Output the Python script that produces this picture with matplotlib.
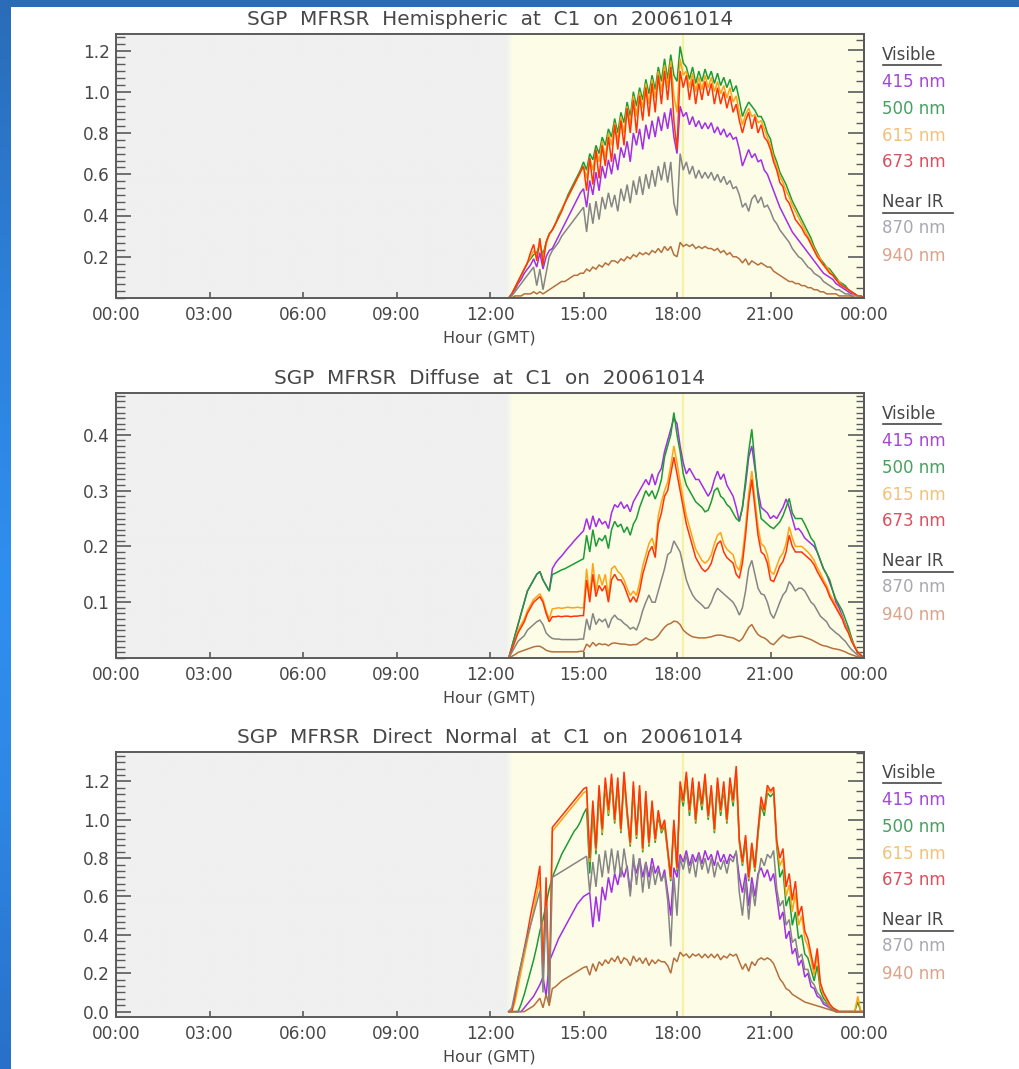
import numpy as np
import matplotlib
matplotlib.use("Agg")
import matplotlib.pyplot as plt
from matplotlib.ticker import MultipleLocator, FixedLocator, FormatStrFormatter, NullFormatter
from matplotlib.lines import Line2D
from matplotlib.patches import Rectangle

W, H = 1019, 1069
plt.rcParams['font.family'] = ['DejaVu Sans']

# Sample times (GMT hours), 6-minute steps from 12:36 to 24:00
hours = np.round(np.arange(126, 241) / 10.0, 1)

# ---------------- Hemispheric irradiance ----------------
hemi_415 = [0.00, 0.02, 0.04, 0.07,
    0.09, 0.12, 0.14, 0.16, 0.19, 0.15, 0.22, 0.14, 0.20, 0.23,
    0.24, 0.27, 0.30, 0.33, 0.36, 0.39, 0.42, 0.45, 0.48, 0.51,
    0.53, 0.44, 0.57, 0.50, 0.61, 0.52, 0.64, 0.58, 0.67, 0.60,
    0.70, 0.62, 0.73, 0.68, 0.76, 0.66, 0.80, 0.74, 0.82, 0.72,
    0.84, 0.77, 0.86, 0.78, 0.88, 0.81, 0.90, 0.82, 0.92, 0.78,
    0.70, 0.93, 0.88, 0.90, 0.84, 0.88, 0.83, 0.86, 0.82, 0.85,
    0.82, 0.85, 0.80, 0.83, 0.79, 0.82, 0.78, 0.80, 0.77, 0.78,
    0.72, 0.64, 0.68, 0.72, 0.68, 0.70, 0.66, 0.67, 0.62, 0.60,
    0.56, 0.52, 0.48, 0.44, 0.41, 0.38, 0.35, 0.32, 0.30, 0.28,
    0.26, 0.24, 0.22, 0.20, 0.18, 0.16, 0.14, 0.12, 0.11, 0.10,
    0.09, 0.07, 0.06, 0.05, 0.04, 0.03, 0.02, 0.02, 0.01, 0.01,
    0.00]
hemi_500 = [0.00, 0.02, 0.05, 0.08,
    0.11, 0.14, 0.17, 0.19, 0.21, 0.22, 0.26, 0.21, 0.27, 0.31,
    0.33, 0.36, 0.40, 0.43, 0.46, 0.50, 0.53, 0.56, 0.59, 0.62,
    0.66, 0.62, 0.70, 0.67, 0.74, 0.70, 0.78, 0.74, 0.82, 0.78,
    0.87, 0.80, 0.90, 0.85, 0.95, 0.88, 1.00, 0.93, 1.02, 0.96,
    1.06, 0.99, 1.08, 1.01, 1.12, 1.05, 1.16, 1.06, 1.18, 1.08,
    1.05, 1.22, 1.14, 1.12, 1.06, 1.12, 1.04, 1.10, 1.05, 1.11,
    1.06, 1.10, 1.04, 1.09, 1.03, 1.07, 1.02, 1.06, 1.00, 1.03,
    0.96, 0.88, 0.92, 0.95, 0.93, 0.91, 0.88, 0.88, 0.85, 0.80,
    0.77, 0.70, 0.66, 0.61, 0.58, 0.55, 0.51, 0.47, 0.44, 0.41,
    0.38, 0.35, 0.32, 0.29, 0.25, 0.22, 0.19, 0.17, 0.15, 0.14,
    0.12, 0.10, 0.08, 0.07, 0.06, 0.04, 0.03, 0.02, 0.01, 0.01,
    0.00]
hemi_615 = [0.00, 0.02, 0.05, 0.08,
    0.11, 0.14, 0.17, 0.20, 0.23, 0.20, 0.27, 0.19, 0.26, 0.31,
    0.33, 0.36, 0.39, 0.43, 0.46, 0.49, 0.52, 0.55, 0.58, 0.61,
    0.64, 0.58, 0.68, 0.62, 0.72, 0.66, 0.76, 0.68, 0.80, 0.74,
    0.85, 0.76, 0.88, 0.80, 0.93, 0.84, 0.98, 0.88, 1.00, 0.92,
    1.04, 0.94, 1.06, 0.97, 1.10, 1.00, 1.13, 1.02, 1.15, 0.98,
    0.90, 1.16, 1.08, 1.10, 1.02, 1.09, 1.00, 1.07, 1.01, 1.08,
    1.02, 1.07, 1.00, 1.05, 0.99, 1.03, 0.97, 1.02, 0.95, 0.98,
    0.90, 0.84, 0.89, 0.92, 0.88, 0.89, 0.85, 0.86, 0.82, 0.78,
    0.74, 0.68, 0.64, 0.59, 0.56, 0.52, 0.49, 0.45, 0.42, 0.39,
    0.36, 0.33, 0.30, 0.27, 0.24, 0.21, 0.19, 0.16, 0.15, 0.13,
    0.11, 0.09, 0.08, 0.06, 0.05, 0.04, 0.03, 0.02, 0.01, 0.01,
    0.00]
hemi_673 = [0.00, 0.02, 0.05, 0.08,
    0.11, 0.14, 0.17, 0.22, 0.26, 0.18, 0.29, 0.16, 0.27, 0.31,
    0.33, 0.36, 0.39, 0.42, 0.46, 0.49, 0.52, 0.55, 0.58, 0.61,
    0.64, 0.52, 0.68, 0.55, 0.72, 0.58, 0.74, 0.64, 0.78, 0.66,
    0.84, 0.72, 0.86, 0.74, 0.92, 0.80, 0.96, 0.80, 0.98, 0.86,
    1.02, 0.88, 1.04, 0.90, 1.08, 0.94, 1.10, 0.96, 1.12, 0.86,
    0.72, 1.10, 1.02, 1.08, 0.96, 1.06, 0.94, 1.04, 0.96, 1.05,
    0.98, 1.04, 0.94, 1.02, 0.94, 1.00, 0.92, 0.98, 0.90, 0.94,
    0.86, 0.80, 0.86, 0.90, 0.82, 0.88, 0.80, 0.84, 0.78, 0.76,
    0.72, 0.66, 0.62, 0.56, 0.54, 0.48, 0.46, 0.42, 0.38, 0.36,
    0.34, 0.31, 0.29, 0.26, 0.23, 0.20, 0.18, 0.16, 0.14, 0.12,
    0.11, 0.09, 0.07, 0.06, 0.05, 0.04, 0.03, 0.02, 0.01, 0.01,
    0.00]
hemi_870 = [0.00, 0.01, 0.03, 0.05,
    0.07, 0.09, 0.11, 0.13, 0.15, 0.06, 0.14, 0.04, 0.12, 0.20,
    0.23, 0.25, 0.27, 0.30, 0.32, 0.34, 0.36, 0.38, 0.40, 0.42,
    0.44, 0.32, 0.46, 0.36, 0.47, 0.38, 0.49, 0.43, 0.51, 0.44,
    0.50, 0.42, 0.53, 0.47, 0.55, 0.46, 0.57, 0.50, 0.59, 0.50,
    0.60, 0.53, 0.62, 0.54, 0.64, 0.57, 0.66, 0.56, 0.66, 0.46,
    0.40, 0.70, 0.62, 0.66, 0.60, 0.64, 0.58, 0.62, 0.58, 0.61,
    0.58, 0.61, 0.57, 0.60, 0.56, 0.59, 0.55, 0.57, 0.53, 0.54,
    0.50, 0.44, 0.46, 0.42, 0.48, 0.50, 0.46, 0.49, 0.44, 0.45,
    0.42, 0.38, 0.36, 0.33, 0.31, 0.29, 0.27, 0.24, 0.22, 0.20,
    0.19, 0.17, 0.15, 0.14, 0.12, 0.11, 0.10, 0.08, 0.07, 0.06,
    0.05, 0.04, 0.04, 0.03, 0.02, 0.02, 0.01, 0.01, 0.01, 0.00,
    0.00]
hemi_940 = [0.00, 0.00, 0.01, 0.01,
    0.01, 0.02, 0.02, 0.02, 0.03, 0.02, 0.03, 0.02, 0.03, 0.04,
    0.05, 0.06, 0.07, 0.08, 0.08, 0.09, 0.10, 0.11, 0.11, 0.12,
    0.12, 0.14, 0.13, 0.15, 0.14, 0.16, 0.15, 0.17, 0.16, 0.18,
    0.18, 0.17, 0.19, 0.18, 0.20, 0.19, 0.21, 0.20, 0.22, 0.21,
    0.22, 0.21, 0.23, 0.22, 0.24, 0.22, 0.25, 0.23, 0.25, 0.21,
    0.20, 0.27, 0.25, 0.26, 0.25, 0.26, 0.24, 0.25, 0.24, 0.25,
    0.24, 0.24, 0.23, 0.24, 0.22, 0.23, 0.21, 0.22, 0.20, 0.20,
    0.19, 0.17, 0.19, 0.16, 0.18, 0.17, 0.16, 0.17, 0.16, 0.15,
    0.15, 0.13, 0.12, 0.11, 0.10, 0.09, 0.08, 0.08, 0.07, 0.07,
    0.06, 0.06, 0.05, 0.05, 0.04, 0.04, 0.03, 0.03, 0.02, 0.02,
    0.02, 0.02, 0.01, 0.01, 0.01, 0.01, 0.01, 0.00, 0.00, 0.00,
    0.00]

# ---------------- Diffuse irradiance ----------------
diff_415 = [0.00, 0.02, 0.04, 0.06,
    0.08, 0.10, 0.12, 0.13, 0.14, 0.15, 0.155, 0.14, 0.13, 0.12,
    0.16, 0.17, 0.177, 0.183, 0.19, 0.197, 0.203, 0.21, 0.216, 0.222,
    0.228, 0.25, 0.23, 0.255, 0.235, 0.25, 0.24, 0.245, 0.232, 0.26,
    0.275, 0.27, 0.28, 0.268, 0.275, 0.262, 0.28, 0.29, 0.30, 0.31,
    0.32, 0.31, 0.33, 0.31, 0.33, 0.34, 0.37, 0.39, 0.41, 0.43,
    0.42, 0.38, 0.35, 0.33, 0.34, 0.33, 0.32, 0.32, 0.31, 0.30,
    0.29, 0.30, 0.32, 0.335, 0.32, 0.33, 0.31, 0.30, 0.29, 0.27,
    0.245, 0.27, 0.31, 0.36, 0.38, 0.34, 0.30, 0.27, 0.265, 0.26,
    0.25, 0.255, 0.25, 0.26, 0.27, 0.285, 0.27, 0.25, 0.23, 0.232,
    0.225, 0.215, 0.21, 0.205, 0.20, 0.19, 0.175, 0.16, 0.15, 0.135,
    0.12, 0.10, 0.09, 0.075, 0.06, 0.05, 0.035, 0.02, 0.01, 0.005,
    0.00]
diff_500 = [0.00, 0.02, 0.04, 0.06,
    0.08, 0.10, 0.12, 0.13, 0.14, 0.15, 0.155, 0.14, 0.13, 0.12,
    0.15, 0.152, 0.155, 0.158, 0.16, 0.163, 0.166, 0.169, 0.172, 0.175,
    0.178, 0.22, 0.19, 0.23, 0.20, 0.215, 0.21, 0.22, 0.196, 0.23,
    0.245, 0.235, 0.24, 0.225, 0.235, 0.22, 0.24, 0.25, 0.27, 0.285,
    0.30, 0.29, 0.30, 0.285, 0.30, 0.32, 0.36, 0.38, 0.40, 0.44,
    0.40, 0.37, 0.33, 0.31, 0.30, 0.29, 0.28, 0.275, 0.27, 0.262,
    0.265, 0.28, 0.30, 0.305, 0.29, 0.285, 0.275, 0.27, 0.26, 0.25,
    0.245, 0.27, 0.32, 0.37, 0.41, 0.35, 0.29, 0.25, 0.245, 0.24,
    0.235, 0.232, 0.238, 0.244, 0.255, 0.27, 0.286, 0.26, 0.25, 0.25,
    0.25, 0.24, 0.228, 0.215, 0.208, 0.19, 0.175, 0.16, 0.15, 0.14,
    0.12, 0.105, 0.095, 0.085, 0.07, 0.055, 0.036, 0.02, 0.01, 0.005,
    0.00]
diff_615 = [0.00, 0.015, 0.03, 0.05,
    0.06, 0.07, 0.085, 0.095, 0.105, 0.11, 0.115, 0.105, 0.085, 0.07,
    0.088, 0.089, 0.09, 0.089, 0.09, 0.091, 0.09, 0.09, 0.091, 0.09,
    0.09, 0.16, 0.11, 0.17, 0.12, 0.15, 0.13, 0.15, 0.11, 0.16,
    0.165, 0.155, 0.15, 0.14, 0.125, 0.112, 0.12, 0.112, 0.135, 0.165,
    0.185, 0.205, 0.215, 0.195, 0.255, 0.28, 0.30, 0.315, 0.345, 0.38,
    0.35, 0.315, 0.285, 0.255, 0.235, 0.215, 0.195, 0.185, 0.175, 0.17,
    0.175, 0.185, 0.205, 0.22, 0.225, 0.205, 0.195, 0.19, 0.185, 0.165,
    0.157, 0.185, 0.235, 0.295, 0.335, 0.285, 0.235, 0.205, 0.20, 0.185,
    0.155, 0.15, 0.165, 0.18, 0.188, 0.205, 0.235, 0.215, 0.20, 0.20,
    0.20, 0.195, 0.19, 0.183, 0.175, 0.162, 0.152, 0.14, 0.13, 0.115,
    0.105, 0.094, 0.083, 0.072, 0.058, 0.047, 0.032, 0.021, 0.011, 0.005,
    0.00]
diff_673 = [0.00, 0.015, 0.03, 0.045,
    0.055, 0.065, 0.08, 0.09, 0.10, 0.105, 0.11, 0.10, 0.08, 0.065,
    0.074, 0.074, 0.075, 0.074, 0.075, 0.075, 0.074, 0.075, 0.075, 0.076,
    0.076, 0.14, 0.10, 0.15, 0.11, 0.13, 0.12, 0.13, 0.10, 0.14,
    0.15, 0.14, 0.14, 0.13, 0.115, 0.10, 0.11, 0.10, 0.12, 0.15,
    0.17, 0.19, 0.20, 0.18, 0.24, 0.26, 0.29, 0.30, 0.33, 0.36,
    0.33, 0.30, 0.27, 0.24, 0.22, 0.20, 0.18, 0.17, 0.16, 0.155,
    0.16, 0.17, 0.19, 0.205, 0.21, 0.19, 0.18, 0.175, 0.17, 0.15,
    0.143, 0.17, 0.22, 0.28, 0.32, 0.27, 0.22, 0.19, 0.185, 0.17,
    0.14, 0.137, 0.15, 0.165, 0.173, 0.19, 0.22, 0.20, 0.19, 0.19,
    0.19, 0.185, 0.18, 0.175, 0.167, 0.155, 0.145, 0.135, 0.125, 0.11,
    0.10, 0.09, 0.08, 0.07, 0.055, 0.045, 0.03, 0.02, 0.01, 0.005,
    0.00]
diff_870 = [0.00, 0.01, 0.02, 0.03,
    0.035, 0.04, 0.05, 0.055, 0.06, 0.065, 0.068, 0.06, 0.045, 0.039,
    0.035, 0.034, 0.034, 0.033, 0.033, 0.033, 0.033, 0.033, 0.033, 0.034,
    0.034, 0.07, 0.05, 0.08, 0.06, 0.07, 0.065, 0.07, 0.054, 0.07,
    0.077, 0.07, 0.068, 0.062, 0.058, 0.052, 0.055, 0.05, 0.065, 0.085,
    0.10, 0.113, 0.10, 0.10, 0.12, 0.14, 0.16, 0.185, 0.19, 0.21,
    0.20, 0.19, 0.165, 0.14, 0.125, 0.113, 0.105, 0.10, 0.095, 0.089,
    0.09, 0.10, 0.115, 0.125, 0.12, 0.115, 0.11, 0.105, 0.10, 0.09,
    0.077, 0.09, 0.12, 0.16, 0.175, 0.15, 0.125, 0.115, 0.113, 0.10,
    0.08, 0.071, 0.085, 0.10, 0.113, 0.12, 0.137, 0.13, 0.12, 0.125,
    0.125, 0.12, 0.11, 0.10, 0.095, 0.085, 0.075, 0.07, 0.065, 0.055,
    0.05, 0.045, 0.041, 0.035, 0.03, 0.022, 0.015, 0.01, 0.005, 0.002,
    0.00]
diff_940 = [0.00, 0.003, 0.006, 0.01,
    0.012, 0.014, 0.016, 0.018, 0.02, 0.021, 0.021, 0.018, 0.014, 0.012,
    0.011, 0.011, 0.011, 0.011, 0.011, 0.011, 0.011, 0.011, 0.011, 0.012,
    0.012, 0.025, 0.02, 0.028, 0.022, 0.026, 0.024, 0.025, 0.022, 0.026,
    0.027, 0.026, 0.025, 0.025, 0.024, 0.023, 0.024, 0.024, 0.028, 0.032,
    0.036, 0.033, 0.032, 0.035, 0.04, 0.048, 0.055, 0.06, 0.062, 0.066,
    0.065, 0.06, 0.05, 0.045, 0.041, 0.038, 0.037, 0.036, 0.036, 0.036,
    0.037, 0.038, 0.04, 0.041, 0.041, 0.04, 0.038, 0.037, 0.036, 0.033,
    0.03, 0.035, 0.045, 0.055, 0.06, 0.05, 0.042, 0.038, 0.036, 0.032,
    0.026, 0.024, 0.03, 0.036, 0.041, 0.038, 0.036, 0.037, 0.038, 0.039,
    0.039, 0.037, 0.035, 0.033, 0.03, 0.027, 0.024, 0.022, 0.021, 0.019,
    0.017, 0.016, 0.015, 0.013, 0.011, 0.008, 0.006, 0.004, 0.002, 0.001,
    0.00]

# ---------------- Direct normal irradiance ----------------
dir_415 = [0.00, 0.00, 0.00, 0.00,
    0.00, 0.02, 0.04, 0.06, 0.08, 0.11, 0.14, 0.18, 0.08, 0.26,
    0.30, 0.34, 0.38, 0.41, 0.44, 0.47, 0.50, 0.53, 0.56, 0.58,
    0.60, 0.61, 0.62, 0.44, 0.60, 0.47, 0.65, 0.58, 0.70, 0.62,
    0.72, 0.66, 0.75, 0.70, 0.76, 0.62, 0.78, 0.72, 0.80, 0.70,
    0.78, 0.70, 0.80, 0.72, 0.76, 0.68, 0.74, 0.62, 0.50, 0.75,
    0.70, 0.82, 0.78, 0.84, 0.76, 0.82, 0.78, 0.83, 0.77, 0.84,
    0.79, 0.82, 0.76, 0.84, 0.78, 0.82, 0.77, 0.82, 0.80, 0.83,
    0.70, 0.62, 0.72, 0.55, 0.70, 0.60, 0.72, 0.75, 0.70, 0.74,
    0.68, 0.72, 0.60, 0.48, 0.52, 0.38, 0.42, 0.30, 0.33, 0.24,
    0.27, 0.18, 0.20, 0.13, 0.12, 0.08, 0.07, 0.04, 0.03, 0.02,
    0.01, 0.00, 0.00, 0.00, 0.00, 0.00, 0.00, 0.00, 0.00, 0.00,
    0.00]
dir_500 = [0.00, 0.00, 0.00, 0.00,
    0.04, 0.09, 0.15, 0.21, 0.27, 0.34, 0.42, 0.48, 0.56, 0.64,
    0.70, 0.74, 0.78, 0.82, 0.85, 0.88, 0.91, 0.94, 0.96, 0.99,
    1.03, 1.06, 0.72, 1.05, 0.82, 1.14, 0.92, 1.18, 1.02, 1.20,
    0.98, 1.18, 0.93, 1.21, 1.02, 0.86, 1.16, 0.90, 1.14, 0.83,
    1.11, 0.86, 1.07, 0.88, 1.02, 0.93, 0.97, 0.83, 0.68, 0.97,
    0.73, 1.16, 1.07, 1.21, 1.02, 1.18, 0.98, 1.16, 1.05, 1.20,
    1.00, 1.15, 0.93, 1.18, 1.02, 1.16, 0.98, 1.18, 1.07, 1.24,
    0.88, 0.76, 0.89, 0.68, 0.85, 0.73, 0.92, 1.08, 1.02, 1.14,
    1.12, 1.14, 0.86, 0.70, 0.74, 0.55, 0.60, 0.45, 0.52, 0.38,
    0.40, 0.30, 0.28, 0.22, 0.16, 0.24, 0.11, 0.07, 0.05, 0.03,
    0.01, 0.00, 0.00, 0.00, 0.00, 0.00, 0.00, 0.00, 0.05, 0.00,
    0.00]
dir_615 = [0.00, 0.00, 0.05, 0.13,
    0.21, 0.29, 0.37, 0.45, 0.53, 0.61, 0.70, 0.30, 0.62, 0.10,
    0.94, 0.96, 0.98, 1.00, 1.02, 1.04, 1.06, 1.08, 1.10, 1.12,
    1.14, 1.15, 0.78, 1.08, 0.84, 1.16, 0.93, 1.20, 1.03, 1.22,
    0.99, 1.20, 0.94, 1.23, 1.04, 0.87, 1.18, 0.91, 1.16, 0.84,
    1.13, 0.87, 1.08, 0.89, 1.04, 0.94, 0.99, 0.84, 0.69, 0.99,
    0.74, 1.18, 1.09, 1.23, 1.04, 1.20, 0.99, 1.18, 1.07, 1.22,
    1.01, 1.16, 0.94, 1.20, 1.04, 1.18, 0.99, 1.20, 1.09, 1.26,
    0.89, 0.77, 0.91, 0.69, 0.87, 0.74, 0.94, 1.10, 1.04, 1.16,
    1.14, 1.16, 0.88, 0.76, 0.80, 0.60, 0.66, 0.52, 0.62, 0.45,
    0.50, 0.38, 0.34, 0.27, 0.19, 0.30, 0.13, 0.09, 0.06, 0.03,
    0.02, 0.01, 0.00, 0.00, 0.00, 0.00, 0.00, 0.00, 0.08, 0.00,
    0.00]
dir_673 = [0.00, 0.00, 0.08, 0.17,
    0.25, 0.33, 0.41, 0.50, 0.58, 0.66, 0.76, 0.20, 0.70, 0.05,
    0.96, 0.98, 1.00, 1.02, 1.04, 1.06, 1.08, 1.10, 1.12, 1.14,
    1.16, 1.17, 0.80, 1.10, 0.85, 1.18, 0.95, 1.22, 1.05, 1.24,
    1.00, 1.22, 0.95, 1.25, 1.05, 0.88, 1.20, 0.92, 1.18, 0.85,
    1.15, 0.88, 1.10, 0.90, 1.05, 0.95, 1.00, 0.85, 0.70, 1.00,
    0.75, 1.20, 1.10, 1.25, 1.05, 1.22, 1.00, 1.20, 1.08, 1.24,
    1.02, 1.18, 0.95, 1.22, 1.05, 1.20, 1.00, 1.22, 1.10, 1.28,
    0.90, 0.78, 0.92, 0.70, 0.88, 0.75, 0.95, 1.12, 1.05, 1.18,
    1.15, 1.17, 0.89, 0.80, 0.85, 0.65, 0.72, 0.58, 0.68, 0.50,
    0.55, 0.42, 0.38, 0.30, 0.22, 0.33, 0.15, 0.10, 0.07, 0.04,
    0.02, 0.01, 0.00, 0.00, 0.00, 0.00, 0.00, 0.00, 0.00, 0.00,
    0.00]
dir_870 = [0.00, 0.02, 0.10, 0.18,
    0.25, 0.32, 0.39, 0.45, 0.51, 0.57, 0.63, 0.10, 0.55, 0.05,
    0.70, 0.71, 0.72, 0.73, 0.74, 0.75, 0.76, 0.77, 0.78, 0.79,
    0.80, 0.81, 0.62, 0.78, 0.65, 0.82, 0.70, 0.84, 0.72, 0.85,
    0.72, 0.84, 0.70, 0.85, 0.74, 0.60, 0.82, 0.66, 0.80, 0.62,
    0.78, 0.64, 0.76, 0.66, 0.74, 0.68, 0.72, 0.58, 0.34, 0.70,
    0.50, 0.80, 0.74, 0.82, 0.72, 0.80, 0.70, 0.82, 0.74, 0.80,
    0.72, 0.80, 0.70, 0.78, 0.74, 0.79, 0.72, 0.80, 0.78, 0.84,
    0.62, 0.50, 0.68, 0.48, 0.66, 0.55, 0.70, 0.80, 0.76, 0.82,
    0.80, 0.84, 0.64, 0.55, 0.58, 0.45, 0.48, 0.36, 0.38, 0.28,
    0.30, 0.22, 0.22, 0.16, 0.14, 0.10, 0.08, 0.05, 0.04, 0.02,
    0.01, 0.00, 0.00, 0.00, 0.00, 0.00, 0.00, 0.00, 0.00, 0.00,
    0.00]
dir_940 = [0.00, 0.00, 0.00, 0.00,
    0.00, 0.00, 0.01, 0.02, 0.03, 0.05, 0.07, 0.02, 0.09, 0.03,
    0.12, 0.13, 0.145, 0.16, 0.17, 0.18, 0.19, 0.20, 0.21, 0.22,
    0.23, 0.235, 0.19, 0.25, 0.21, 0.26, 0.24, 0.27, 0.25, 0.28,
    0.26, 0.29, 0.25, 0.28, 0.27, 0.24, 0.29, 0.26, 0.28, 0.25,
    0.28, 0.24, 0.27, 0.25, 0.27, 0.26, 0.26, 0.24, 0.20, 0.28,
    0.26, 0.31, 0.29, 0.30, 0.28, 0.30, 0.29, 0.30, 0.28, 0.30,
    0.28, 0.30, 0.28, 0.30, 0.27, 0.29, 0.28, 0.30, 0.29, 0.30,
    0.26, 0.22, 0.25, 0.21, 0.26, 0.24, 0.27, 0.28, 0.27, 0.28,
    0.27, 0.25, 0.21, 0.17, 0.15, 0.12, 0.11, 0.09, 0.08, 0.07,
    0.06, 0.05, 0.045, 0.04, 0.035, 0.03, 0.025, 0.02, 0.015, 0.01,
    0.005, 0.00, 0.00, 0.00, 0.00, 0.00, 0.00, 0.00, 0.00, 0.00,
    0.00]

tick_hours = [0, 3, 6, 9, 12, 15, 18, 21, 24]
tick_labels = ["00:00", "03:00", "06:00", "09:00", "12:00",
               "15:00", "18:00", "21:00", "00:00"]

channel_names = ["415 nm", "500 nm", "615 nm", "673 nm", "870 nm", "940 nm"]
line_colors = ["#a22ee6", "#1c9c34", "#ffa412", "#ff3408", "#858585", "#b5703e"]
label_colors = ["#a448d6", "#47a05e", "#f2c27a", "#d9505e", "#a8a8b0", "#dba48a"]

solar_noon = 18.2
text_color = "#474747"
frame_color = "#5a5a5a"

panels = [
    dict(title="SGP  MFRSR  Hemispheric  at  C1  on  20061014",
         series=[hemi_415, hemi_500, hemi_615, hemi_673, hemi_870, hemi_940],
         ylim=(0.0, 1.28), yticks=[0.2, 0.4, 0.6, 0.8, 1.0, 1.2],
         major=0.2, left_minor=0.2 / 6, right_minor=0.05, top=34, bottom=298),
    dict(title="SGP  MFRSR  Diffuse  at  C1  on  20061014",
         series=[diff_415, diff_500, diff_615, diff_673, diff_870, diff_940],
         ylim=(0.0, 0.475), yticks=[0.1, 0.2, 0.3, 0.4],
         major=0.1, left_minor=0.01, right_minor=0.01, top=393, bottom=658),
    dict(title="SGP  MFRSR  Direct  Normal  at  C1  on  20061014",
         series=[dir_415, dir_500, dir_615, dir_673, dir_870, dir_940],
         ylim=(-0.028, 1.353), yticks=[0.0, 0.2, 0.4, 0.6, 0.8, 1.0, 1.2],
         major=0.2, left_minor=0.2 / 6, right_minor=0.05, top=752, bottom=1017),
]


def fx(px):
    return px / W


def fy(py):
    return 1.0 - py / H


fig = plt.figure(figsize=(W / 100, H / 100), dpi=100)
fig.patch.set_facecolor("white")

# Blue frame along the top and left edges
fig.add_artist(Rectangle((0, fy(7)), 1, 7 / H, transform=fig.transFigure,
                         facecolor="#2a6cb8", edgecolor="none", zorder=0))
edge_ax = fig.add_axes([0, 0, 11 / W, 1], zorder=0)
edge_ax.axis("off")
stops_y = np.array([0.0, 0.3, 0.55, 0.75, 1.0])
stops_c = np.array([[42, 108, 184], [45, 130, 220], [47, 143, 240],
                    [46, 135, 228], [40, 112, 200]]) / 255.0
yy = np.linspace(0, 1, 400)
strip = np.stack([np.interp(yy, stops_y, stops_c[:, k]) for k in range(3)], axis=-1)
edge_ax.imshow(strip[:, None, :], aspect="auto", extent=(0, 1, 1, 0))

# Night / day shading along the time axis
shade_x = np.linspace(0, 24, 1921)
blend = np.clip((shade_x - 12.52) / (12.74 - 12.52), 0, 1)
night = np.array([240, 240, 240]) / 255.0
day = np.array([253, 253, 231]) / 255.0
shade = night[None, :] * (1 - blend[:, None]) + day[None, :] * blend[:, None]

for p in panels:
    top, bottom = p["top"], p["bottom"]
    ax = fig.add_axes([fx(116), fy(bottom), fx(864) - fx(116), (bottom - top) / H])
    ylo, yhi = p["ylim"]
    ax.imshow(shade[None, :, :], extent=(0, 24, ylo, yhi), aspect="auto",
              interpolation="bilinear", zorder=0)
    ax.axvline(solar_noon, color="#f5f1a8", lw=1.6, zorder=1)

    for vals, col in zip(p["series"], line_colors):
        ax.plot(hours, vals, color=col, lw=1.1, zorder=2, solid_joinstyle="miter")

    ax.set_xlim(0, 24)
    ax.set_ylim(ylo, yhi)

    for sp in ax.spines.values():
        sp.set_color(frame_color)
        sp.set_linewidth(1.4)

    ax.set_xticks(tick_hours)
    ax.set_xticklabels(tick_labels)
    ax.tick_params(axis="x", direction="in", length=4, width=1.2, color=frame_color,
                   labelcolor=text_color, labelsize=12.2, pad=6, top=False)
    ax.yaxis.set_major_locator(FixedLocator(p["yticks"]))
    ax.yaxis.set_major_formatter(FormatStrFormatter("%.1f"))
    ax.yaxis.set_minor_locator(MultipleLocator(p["left_minor"]))
    ax.tick_params(axis="y", which="major", direction="in", length=11, width=1.2,
                   color=frame_color, labelcolor=text_color, labelsize=12.2,
                   pad=4.5, right=False)
    ax.tick_params(axis="y", which="minor", direction="in", length=6.5, width=1.0,
                   color=frame_color, right=False)

    sec = ax.secondary_yaxis("right")
    sec.yaxis.set_major_locator(MultipleLocator(p["major"]))
    sec.yaxis.set_minor_locator(MultipleLocator(p["right_minor"]))
    sec.yaxis.set_major_formatter(NullFormatter())
    sec.tick_params(which="major", direction="in", length=11.5, width=1.2, color=frame_color)
    sec.tick_params(which="minor", direction="in", length=5.5, width=1.0, color=frame_color)
    sec.spines["right"].set_color(frame_color)
    sec.spines["right"].set_linewidth(1.4)

    fig.text(fx(490), fy(top - 14.5), p["title"], ha="center", va="center",
             fontsize=14.4, color=text_color)
    fig.text(fx(489), fy(bottom + 40), "Hour (GMT)", ha="center", va="center",
             fontsize=11.5, color=text_color)

    # Channel key to the right of each panel
    fig.text(fx(882), fy(top + 21), "Visible", ha="left", va="center",
             fontsize=12, color=text_color)
    fig.add_artist(Line2D([fx(883), fx(941)], [fy(top + 31), fy(top + 31)],
                          color=text_color, lw=1.2))
    for k, off in enumerate([48, 75, 102, 128]):
        fig.text(fx(882), fy(top + off), channel_names[k], ha="left", va="center",
                 fontsize=12, color=label_colors[k])
    fig.text(fx(882), fy(top + 168), "Near IR", ha="left", va="center",
             fontsize=12, color=text_color)
    fig.add_artist(Line2D([fx(883), fx(953)], [fy(top + 179), fy(top + 179)],
                          color=text_color, lw=1.2))
    for k, off in zip([4, 5], [194, 222]):
        fig.text(fx(882), fy(top + off), channel_names[k], ha="left", va="center",
                 fontsize=12, color=label_colors[k])

fig.savefig("out.png", dpi=100)
